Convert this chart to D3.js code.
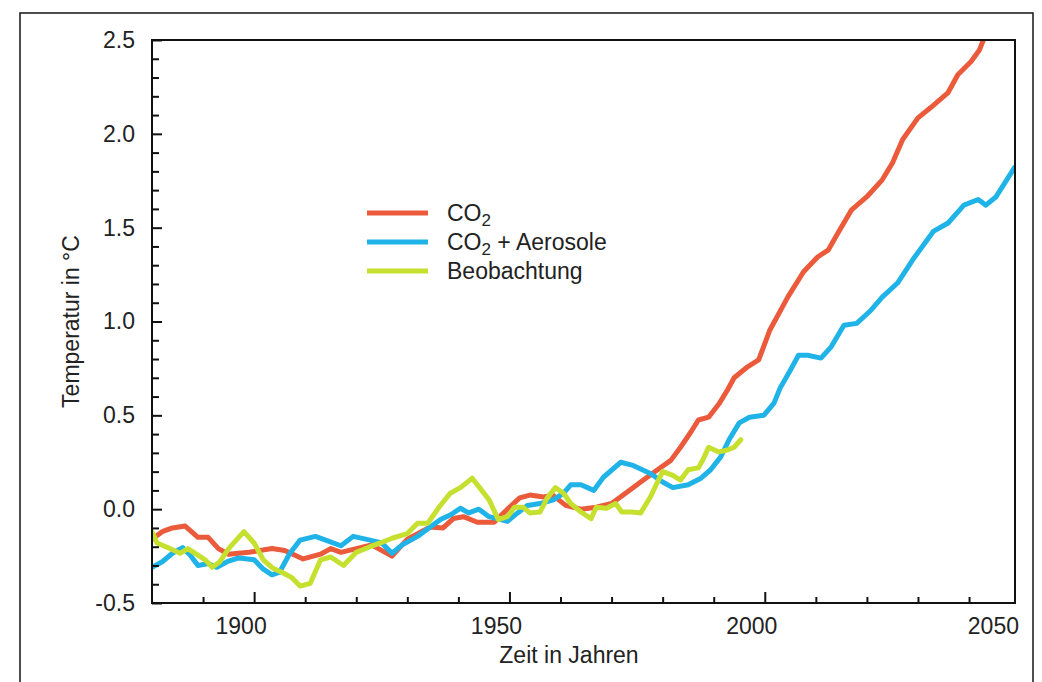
<!DOCTYPE html>
<html>
<head>
<meta charset="utf-8">
<script src="https://cdn.jsdelivr.net/npm/d3@7"></script>
<style>
  body { margin: 0; background: #fff; }
  svg { font-family: "Liberation Sans", Arial, Helvetica, sans-serif; }
</style>
</head>
<body>
<script>
// series: [year, temperature anomaly in °C]
var co2 = [
  [1880, -0.16], [1882, -0.12], [1884, -0.10], [1886.5, -0.09], [1889, -0.15],
  [1891, -0.15], [1893, -0.21], [1895, -0.24], [1899, -0.23], [1903.5, -0.21],
  [1906, -0.22], [1909.6, -0.265], [1913, -0.24], [1915, -0.21], [1917, -0.23],
  [1920, -0.21], [1923, -0.19], [1927, -0.25], [1930, -0.16], [1934.5, -0.095],
  [1937, -0.10], [1939, -0.05], [1941, -0.04], [1943.7, -0.07], [1947, -0.07],
  [1949.6, 0.0], [1952, 0.06], [1954, 0.075], [1956.7, 0.065], [1958.5, 0.075],
  [1961, 0.02], [1964, 0.0], [1967, 0.01], [1970, 0.03], [1973, 0.09],
  [1975.7, 0.145], [1979, 0.21], [1981.6, 0.26], [1983.5, 0.33], [1985.5, 0.41],
  [1987, 0.475], [1989, 0.49], [1991, 0.56], [1992.7, 0.635], [1994, 0.70],
  [1996.7, 0.76], [1998.8, 0.795], [2001, 0.955], [2004.5, 1.13], [2007.6, 1.265],
  [2010.4, 1.345], [2012.4, 1.38], [2014.3, 1.47], [2017, 1.595], [2020, 1.665],
  [2023, 1.755], [2025, 1.845], [2027, 1.97], [2030, 2.085], [2032.5, 2.14],
  [2035.9, 2.22], [2037.8, 2.315], [2040.4, 2.385], [2042, 2.445], [2042.8, 2.5]
];

var co2Aerosol = [
  [1880, -0.31], [1882, -0.28], [1884, -0.235], [1886, -0.205], [1887.5, -0.245],
  [1889, -0.30], [1891, -0.29], [1892.7, -0.31], [1894.7, -0.28], [1897, -0.26],
  [1900, -0.27], [1901.8, -0.32], [1903.5, -0.35], [1905, -0.335], [1907, -0.235],
  [1909, -0.165], [1912, -0.145], [1914, -0.165], [1917, -0.195], [1919.4, -0.145],
  [1922.7, -0.165], [1925, -0.18], [1927, -0.235], [1929, -0.19], [1932, -0.145],
  [1934.5, -0.095], [1936.5, -0.055], [1938.5, -0.03], [1940.4, 0.005], [1942, -0.02],
  [1944, 0.0], [1946, -0.04], [1949.6, -0.065], [1951.6, -0.02], [1953.5, 0.02],
  [1956, 0.03], [1958.6, 0.05], [1960.6, 0.085], [1962, 0.13], [1964, 0.13],
  [1966.5, 0.10], [1968.4, 0.17], [1971.8, 0.25], [1974, 0.235], [1977.6, 0.19],
  [1980, 0.145], [1982, 0.115], [1985, 0.13], [1987.5, 0.165], [1989.4, 0.21],
  [1991.4, 0.28], [1993, 0.37], [1995, 0.46], [1997, 0.49], [1999.8, 0.50],
  [2001.8, 0.565], [2003, 0.645], [2005, 0.74], [2006.6, 0.82], [2008.4, 0.82],
  [2011, 0.805], [2013, 0.865], [2015.5, 0.98], [2018, 0.99], [2020.8, 1.06],
  [2023, 1.13], [2026, 1.205], [2029, 1.33], [2033, 1.48], [2035.9, 1.525],
  [2039, 1.62], [2041.8, 1.65], [2043.3, 1.62], [2045.3, 1.665], [2048.9, 1.82]
];

var observed = [
  [1880, -0.12], [1881, -0.18], [1883.5, -0.21], [1885.5, -0.235], [1887, -0.21],
  [1889, -0.245], [1890.4, -0.27], [1891.8, -0.31], [1893.3, -0.28], [1895, -0.21],
  [1898, -0.12], [1900, -0.18], [1901.8, -0.27], [1903.7, -0.315], [1905.7, -0.34],
  [1907.4, -0.365], [1909, -0.41], [1911, -0.395], [1913, -0.27], [1915, -0.255],
  [1917.5, -0.30], [1920, -0.23], [1922.7, -0.20], [1924.7, -0.18], [1927, -0.155],
  [1930, -0.13], [1932, -0.075], [1934, -0.075], [1936.2, 0.01], [1938.4, 0.085],
  [1940.4, 0.115], [1942.7, 0.165], [1944, 0.12], [1946, 0.05], [1947.8, -0.055],
  [1949.6, -0.04], [1951, 0.01], [1952.7, 0.01], [1954, -0.02], [1956, -0.015],
  [1957.4, 0.06], [1959, 0.115], [1960.6, 0.085], [1962, 0.03], [1964, -0.015],
  [1966, -0.05], [1967, 0.01], [1969, 0.005], [1970.8, 0.03], [1972, -0.015],
  [1974, -0.015], [1975.7, -0.02], [1977.6, 0.065], [1979, 0.145], [1980, 0.2],
  [1982, 0.18], [1983.5, 0.155], [1985, 0.21], [1987, 0.22], [1988, 0.27],
  [1989, 0.33], [1991, 0.305], [1992.7, 0.315], [1994, 0.33], [1995.3, 0.37]
];

var seriesNames = ["CO2", "CO2 + Aerosole", "Beobachtung"];
var seriesColors = ["#ea5a3b", "#1fb3e8", "#c6e02f"];

var yMajorTicks = [-0.5, 0.0, 0.5, 1.0, 1.5, 2.0, 2.5];
var xLabelYears = [1900, 1950, 2000, 2050];
var xMajorYears = [1900, 1950, 2000];

// layout
var margin = {top: 40, right: 27, bottom: 79, left: 152},
    width = 1042 - margin.left - margin.right,
    height = 682 - margin.top - margin.bottom;

var x = d3.scaleLinear().domain([1880, 2049]).range([0, width]);
var y = d3.scaleLinear().domain([-0.5, 2.5]).range([height, 0]);

var svg = d3.select("body").append("svg")
    .attr("width", 1042)
    .attr("height", 682);

// outer frame of the figure
svg.append("rect")
    .attr("x", 20).attr("y", 13)
    .attr("width", 1013).attr("height", 720)
    .attr("fill", "none")
    .attr("stroke", "#222")
    .attr("stroke-width", 1.6);

var g = svg.append("g")
    .attr("transform", "translate(" + margin.left + "," + margin.top + ")");

// lines
var line = d3.line()
    .x(function(d) { return x(d[0]); })
    .y(function(d) { return y(d[1]); });

g.append("clipPath").attr("id", "plotclip")
  .append("rect").attr("width", width).attr("height", height);

[co2, co2Aerosol, observed].forEach(function(data, i) {
  g.append("path")
      .datum(data)
      .attr("clip-path", "url(#plotclip)")
      .attr("fill", "none")
      .attr("stroke", seriesColors[i])
      .attr("stroke-width", 5)
      .attr("stroke-linejoin", "round")
      .attr("stroke-linecap", "round")
      .attr("d", line);
});

// y axis: minor ticks every 0.1, inward
var yTicks = d3.range(-5, 26).map(function(i) { return i / 10; });
var isYMajor = function(d) { return yMajorTicks.some(function(m) { return Math.abs(m - d) < 1e-6; }); };

var yAxis = g.append("g")
    .call(d3.axisLeft(y)
      .tickValues(yTicks)
      .tickSize(-7)
      .tickPadding(17)
      .tickFormat(function(d) { return isYMajor(d) ? d.toFixed(1) : ""; }));
yAxis.select(".domain").remove();
yAxis.selectAll(".tick line")
    .attr("stroke", "#111")
    .attr("stroke-width", 2)
    .attr("x2", function(d) { return isYMajor(d) ? 10 : 7; });
yAxis.selectAll(".tick text")
    .attr("font-size", 23)
    .attr("fill", "#222")
    .attr("font-family", "Liberation Sans, Arial, sans-serif");

// x axis: ticks every 10 years, inward
var xTicks = d3.range(1890, 2041, 10);
var xAxis = g.append("g")
    .attr("transform", "translate(0," + height + ")")
    .call(d3.axisBottom(x)
      .tickValues(xTicks)
      .tickSize(-6)
      .tickFormat(""));
xAxis.select(".domain").remove();
xAxis.selectAll(".tick line")
    .attr("stroke", "#111")
    .attr("stroke-width", 2)
    .attr("y2", function(d) { return xMajorYears.indexOf(d) >= 0 ? -11 : -6; });

// x labels sit slightly left of their tick; 2050 lies beyond the axis end
g.selectAll(".xlabel")
    .data(xLabelYears)
  .enter().append("text")
    .attr("class", "xlabel")
    .attr("x", function(d) { return d > x.domain()[1] ? width + 4 : x(d) - 13; })
    .attr("y", height + 31)
    .attr("text-anchor", function(d) { return d > x.domain()[1] ? "end" : "middle"; })
    .attr("font-size", 23)
    .attr("fill", "#222")
    .text(function(d) { return d; });

// plot frame
g.append("rect")
    .attr("width", width)
    .attr("height", height)
    .attr("fill", "none")
    .attr("stroke", "#111")
    .attr("stroke-width", 2);

// axis titles
g.append("text")
    .attr("x", 569 - margin.left)
    .attr("y", height + 60)
    .attr("text-anchor", "middle")
    .attr("font-size", 23)
    .attr("fill", "#222")
    .text("Zeit in Jahren");

g.append("text")
    .attr("transform", "translate(" + (79 - margin.left) + "," + (height / 2) + ") rotate(-90)")
    .attr("text-anchor", "middle")
    .attr("font-size", 23)
    .attr("fill", "#222")
    .text("Temperatur in °C");

// legend
var legend = svg.append("g").attr("transform", "translate(367,213)");
seriesNames.forEach(function(name, i) {
  var row = legend.append("g").attr("transform", "translate(0," + (i * 29) + ")");
  row.append("line")
      .attr("x1", 0).attr("x2", 61)
      .attr("stroke", seriesColors[i])
      .attr("stroke-width", 5);
  var t = row.append("text")
      .attr("x", 80)
      .attr("y", 8)
      .attr("font-size", 23)
      .attr("fill", "#222");
  if (name.indexOf("CO2") === 0) {
    t.append("tspan").text("CO");
    t.append("tspan").attr("font-size", 17).attr("dy", 5).text("2");
    if (name.length > 3) t.append("tspan").attr("dy", -5).text(name.slice(3));
  } else {
    t.text(name);
  }
});
</script>
</body>
</html>
